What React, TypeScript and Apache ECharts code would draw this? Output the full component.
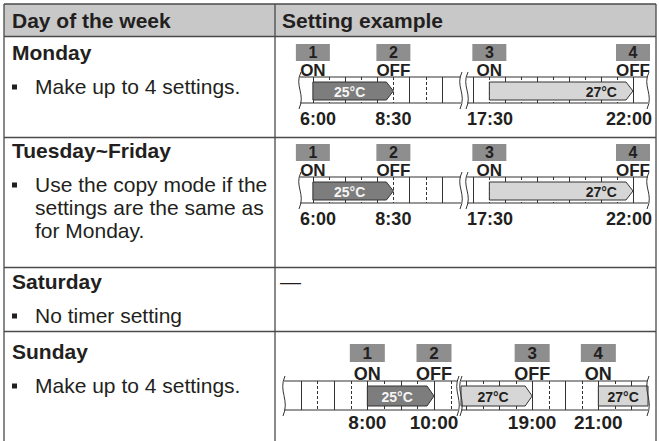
import React, { useEffect, useRef } from "react";
import * as echarts from "echarts";

// ---------- data ----------
const headers = ["Day of the week", "Setting example"];
const dayNames = ["Monday", "Tuesday~Friday", "Saturday", "Sunday"];
const dayNotes = [
  ["Make up to 4 settings."],
  ["Use the copy mode if the", "settings are the same as", "for Monday."],
  ["No timer setting"],
  ["Make up to 4 settings."],
];
const saturdaySetting = "—";

const weekdaySteps = ["1", "2", "3", "4"];
const weekdayActions = ["ON", "OFF", "ON", "OFF"];
const weekdayTimes = [6, 8.5, 17.5, 22];
const weekdayTimeLabels = ["6:00", "8:30", "17:30", "22:00"];
const weekdayBarStarts = [6, 17.5];
const weekdayBarEnds = [8.5, 22];
const weekdayBarTemps = [25, 27];
const weekdayRanges = [
  [5.6, 10.6],
  [16.8, 22.47],
];

const sundaySteps = ["1", "2", "3", "4"];
const sundayActions = ["ON", "OFF", "OFF", "ON"];
const sundayTimes = [8, 10, 19, 21];
const sundayTimeLabels = ["8:00", "10:00", "19:00", "21:00"];
const sundayBarStarts = [8, 16.85, 21];
const sundayBarEnds = [10, 19, 22.5];
const sundayBarTemps = [25, 27, 27];
const sundayRanges = [
  [5.5, 10.72],
  [16.85, 22.5],
];

// ---------- layout / style ----------
const FONT = '"Liberation Sans", Arial, Helvetica, sans-serif';
const INK = "#231f20";
const LINE = "#4a4a4a";
const T = { left: 4, right: 656, mid: 275, top: 4, bottom: 441 };
const rowTops = [36.5, 137.5, 267.5, 331.5];
const headingY = [52, 150, 281, 351];
const noteY = [86, 184, 315, 385];
const noteGap = 23;

const diagrams = [
  {
    steps: weekdaySteps, actions: weekdayActions, times: weekdayTimes, timeLabels: weekdayTimeLabels,
    barStarts: weekdayBarStarts, barEnds: weekdayBarEnds, barTemps: weekdayBarTemps, ranges: weekdayRanges,
  },
  {
    steps: weekdaySteps, actions: weekdayActions, times: weekdayTimes, timeLabels: weekdayTimeLabels,
    barStarts: weekdayBarStarts, barEnds: weekdayBarEnds, barTemps: weekdayBarTemps, ranges: weekdayRanges,
  },
  {
    steps: sundaySteps, actions: sundayActions, times: sundayTimes, timeLabels: sundayTimeLabels,
    barStarts: sundayBarStarts, barEnds: sundayBarEnds, barTemps: sundayBarTemps, ranges: sundayRanges,
  },
];

const layouts = [
  { stripTop: 77, stripH: 26, segX: [[300, 461], [467, 648]], boxGap: 16, boxH: 17, boxW: 34, numSize: 16, actionSize: 17, timeSize: 18, timeOffset: 16, barTop: 5, barBottom: 3, labelSize: 14, labelAlign: ["center", "right"] },
  { stripTop: 177, stripH: 26, segX: [[300, 461], [467, 648]], boxGap: 16, boxH: 17, boxW: 34, numSize: 16, actionSize: 17, timeSize: 18, timeOffset: 16, barTop: 5, barBottom: 3, labelSize: 14, labelAlign: ["center", "right"] },
  { stripTop: 381, stripH: 29, segX: [[284, 458], [461, 648]], boxGap: 19, boxH: 18, boxW: 35, numSize: 17, actionSize: 18, timeSize: 19, timeOffset: 12, barTop: 5, barBottom: 4, labelSize: 14, labelAlign: ["center", "center", "center"] },
];

function txt(text: string, x: number, y: number, font: string, fill: string, align = "left", vAlign = "middle") {
  return {
    type: "text",
    style: { text, x, y, font, fill, align, verticalAlign: vAlign, textAlign: align, textVerticalAlign: vAlign },
  };
}

function estWidth(s: string, size: number) {
  let w = 0;
  for (const c of s) w += c === ":" ? 0.333 : 0.556;
  return w * size;
}

function wave(x: number, yT: number, yB: number) {
  const h = yB - yT;
  return {
    type: "bezierCurve",
    shape: { x1: x + 1, y1: yT - 5, cpx1: x - 6, cpy1: yT + h * 0.35, cpx2: x + 6, cpy2: yT + h * 0.65, x2: x - 1, y2: yB + 6 },
    style: { stroke: "#333", lineWidth: 1, fill: "none" },
  };
}

function makeRender(d: number, s: number) {
  return (_params: any, api: any) => {
    const diag = diagrams[d];
    const L = layouts[d];
    const [tMin, tMax] = diag.ranges[s];
    const X = (t: number) => api.coord([t, 0])[0];
    const yB = api.coord([tMin, 0])[1];
    const yT = api.coord([tMin, 1])[1];
    const x0 = X(tMin);
    const x1 = X(tMax);
    const children: any[] = [];

    // grid lines every half hour
    for (let h = Math.ceil(tMin * 2) / 2; h < tMax; h += 0.5) {
      if (h - tMin < 0.1 || tMax - h < 0.1) continue;
      const x = Math.round(X(h)) + 0.5;
      children.push({
        type: "line",
        shape: { x1: x, y1: yT, x2: x, y2: yB },
        style: { stroke: "#333", lineWidth: 1, lineDash: Number.isInteger(h) ? null : [3, 2] },
      });
    }

    // bars
    diag.barStarts.forEach((bs, i) => {
      const be = diag.barEnds[i];
      if (bs < tMin - 1e-6 || be > tMax + 1e-6) return;
      const xs = X(bs);
      const xe = X(be);
      const top = yT + L.barTop;
      const bot = yB - L.barBottom;
      const mid = (top + bot) / 2;
      const tip = be < tMax - 1e-6 ? 7 : 0;
      const dark = diag.barTemps[i] <= 25;
      children.push({
        type: "polygon",
        shape: { points: [[xs, top], [xe - tip, top], [xe, mid], [xe - tip, bot], [xs, bot]] },
        style: { fill: dark ? "#7d7d7d" : "#d6d6d6", stroke: "#333", lineWidth: 1 },
      });
      const align = L.labelAlign[i];
      const lx = align === "right" ? xe - tip - 9 : (xs + xe - tip) / 2;
      children.push(txt(`${diag.barTemps[i]}°C`, lx, mid + 0.5, `bold ${L.labelSize}px ${FONT}`, dark ? "#f4f4f4" : INK, align));
    });

    // strip lines
    children.push({ type: "line", shape: { x1: x0, y1: yT, x2: x1, y2: yT }, style: { stroke: "#333", lineWidth: 1.2 } });
    children.push({ type: "line", shape: { x1: x0, y1: yB, x2: x1, y2: yB }, style: { stroke: "#333", lineWidth: 1.2 } });
    children.push(wave(x0, yT, yB));
    children.push(wave(x1, yT, yB));

    // settings
    diag.times.forEach((t, i) => {
      if (t < tMin - 1e-6 || t > tMax + 1e-6) return;
      const cx = X(t);
      const boxBottom = yT - L.boxGap;
      children.push({
        type: "rect",
        shape: { x: cx - L.boxW / 2, y: boxBottom - L.boxH, width: L.boxW, height: L.boxH },
        style: { fill: "#8e8e8e" },
      });
      children.push(txt(diag.steps[i], cx, boxBottom - L.boxH / 2, `bold ${L.numSize}px ${FONT}`, INK, "center"));
      children.push(txt(diag.actions[i], cx, yT - 1 - 0.35 * L.actionSize, `bold ${L.actionSize}px ${FONT}`, INK, "center"));
      const lab = diag.timeLabels[i];
      const w = estWidth(lab, L.timeSize);
      let lc = cx;
      if (lc - w / 2 < x0) lc = x0 + w / 2;
      if (lc + w / 2 > T.right - 4) lc = T.right - 4 - w / 2;
      children.push(txt(lab, lc, yB + L.timeOffset, `bold ${L.timeSize}px ${FONT}`, INK, "center"));
    });

    return { type: "group", children };
  };
}

function buildOption() {
  const grid: any[] = [];
  const xAxis: any[] = [];
  const yAxis: any[] = [];
  const series: any[] = [];
  diagrams.forEach((diag, d) => {
    const L = layouts[d];
    diag.ranges.forEach((r, s) => {
      const idx = grid.length;
      grid.push({ left: L.segX[s][0], width: L.segX[s][1] - L.segX[s][0], top: L.stripTop, height: L.stripH, containLabel: false });
      xAxis.push({ gridIndex: idx, type: "value", min: r[0], max: r[1], show: false });
      yAxis.push({ gridIndex: idx, type: "value", min: 0, max: 1, show: false });
      series.push({
        type: "custom",
        xAxisIndex: idx,
        yAxisIndex: idx,
        clip: false,
        silent: true,
        data: [[r[0], 0]],
        renderItem: makeRender(d, s),
      });
    });
  });

  const g: any[] = [];
  // header background
  g.push({ type: "rect", shape: { x: T.left, y: T.top, width: T.right - T.left, height: rowTops[0] - T.top }, style: { fill: "#c8c8c8" } });
  // horizontal lines
  [T.top, ...rowTops].forEach((y) => {
    g.push({ type: "line", shape: { x1: T.left, y1: y, x2: T.right, y2: y }, style: { stroke: LINE, lineWidth: 1.3 } });
  });
  // vertical lines
  [T.left, T.mid, T.right].forEach((x) => {
    g.push({ type: "line", shape: { x1: x, y1: T.top, x2: x, y2: T.bottom }, style: { stroke: LINE, lineWidth: 1.3 } });
  });
  // header texts
  g.push(txt(headers[0], 12, 20.5, `bold 21px ${FONT}`, INK));
  g.push(txt(headers[1], 282, 20.5, `bold 21px ${FONT}`, INK));
  // day rows
  dayNames.forEach((name, i) => {
    g.push(txt(name, 12, headingY[i], `bold 21px ${FONT}`, INK));
    dayNotes[i].forEach((line, j) => {
      const y = noteY[i] + j * noteGap;
      if (j === 0) g.push({ type: "rect", shape: { x: 12, y: y - 1.5, width: 5, height: 5 }, style: { fill: INK } });
      g.push(txt(line, 35, y, `21px ${FONT}`, INK));
    });
  });
  g.push(txt(saturdaySetting, 280, headingY[2], `21px ${FONT}`, INK));

  return {
    animation: false,
    backgroundColor: "#ffffff",
    grid,
    xAxis,
    yAxis,
    series,
    graphic: { elements: g },
  };
}

export default function App() {
  const ref = useRef<HTMLDivElement>(null);
  useEffect(() => {
    if (!ref.current) return;
    const chart = echarts.init(ref.current, undefined, { renderer: "svg" });
    chart.setOption(buildOption() as any);
    return () => chart.dispose();
  }, []);
  return <div ref={ref} style={{ position: "fixed", left: 0, top: 0, width: 659, height: 441, background: "#fff" }} />;
}
